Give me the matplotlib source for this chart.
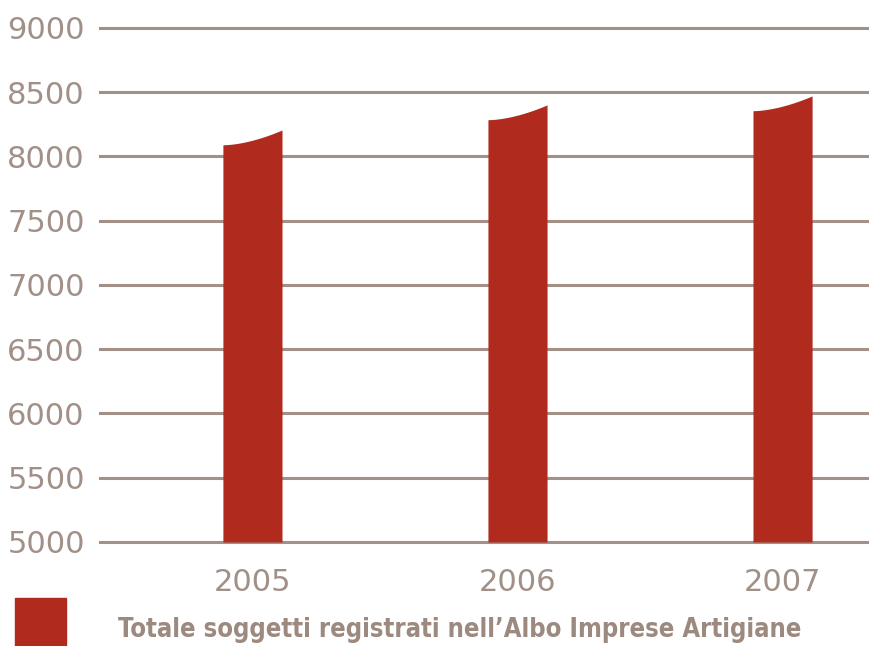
import numpy as np
import matplotlib.pyplot as plt
from matplotlib.patches import Rectangle

# data
years = ['2005', '2006', '2007']
totals = [8205, 8400, 8470]   # height at the high (right) edge of each bar
yticks = [5000, 5500, 6000, 6500, 7000, 7500, 8000, 8500, 9000]
legend_label = "Totale soggetti registrati nell\u2019Albo Imprese Artigiane"

bar_color = '#b02b1d'
text_color = '#9c8a80'
grid_color = '#a39189'

fig = plt.figure(figsize=(8.70, 6.46), dpi=100)
ax = fig.add_axes([0.115, 0.161, 0.885, 0.796])

width = 0.223
curve_drop = 115  # the curled top: left edge sits lower than the right
t = np.linspace(0, 1, 60)
for i, val in enumerate(totals):
    xs = i - width / 2 + t * width
    top = val - curve_drop + curve_drop * t ** 1.7
    ax.fill_between(xs, 5000, top, color=bar_color, linewidth=0, zorder=3)

ax.set_xlim(-0.575, 2.33)
ax.set_ylim(5000, 9000)
ax.set_yticks(yticks)
ax.set_yticklabels([str(v) for v in yticks])
ax.set_xticks(range(len(years)))
ax.set_xticklabels(years)
ax.tick_params(axis='both', length=0, labelsize=22, labelcolor='#a19088')
ax.tick_params(axis='y', pad=11)
ax.tick_params(axis='x', pad=19)
for lab in ax.get_yticklabels() + ax.get_xticklabels():
    lab.set_fontfamily(['DejaVu Sans'])

for v in yticks:
    ax.axhline(v, color=grid_color, linewidth=2.2, zorder=1, clip_on=False)
for s in ax.spines.values():
    s.set_visible(False)

fig.patches.append(Rectangle((15 / 870, 0), 51 / 870, 48 / 646, transform=fig.transFigure,
                             color=bar_color, figure=fig))
fig.text(118 / 870, 9 / 646, legend_label, color=text_color, fontsize=18.4, fontweight='bold',
         fontstretch='condensed', family=['DejaVu Sans'], va='baseline', ha='left')

fig.savefig('out.png', dpi=100)
